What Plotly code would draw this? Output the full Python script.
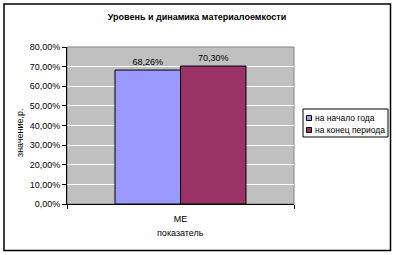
import plotly.graph_objects as go

categories = ["МЕ"]
series_names = ["на начало года", "на конец периода"]
start_values = [0.6826]
end_values = [0.7030]
colors = ["#9999FF", "#993366"]
y_ticks = [0, 0.1, 0.2, 0.3, 0.4, 0.5, 0.6, 0.7, 0.8]

FONT = "Liberation Sans, Arial, sans-serif"

fig = go.Figure()
for name, vals, col in zip(series_names, [start_values, end_values], colors):
    fig.add_trace(go.Bar(
        x=categories, y=vals, name=name,
        marker=dict(color=col, line=dict(color="black", width=1)),
        texttemplate="%{y:.2%}", textposition="outside",
        textfont=dict(family=FONT, size=9, color="black"),
        cliponaxis=False, showlegend=False,
    ))

W, H = 396, 255
L, R, T, B = 67, 102, 47, 51
pw, ph = W - L - R, H - T - B

def px_x(x):
    return (x - L) / pw

def px_y(y):
    return (H - B - y) / ph

shapes = [
    dict(type="rect", xref="paper", yref="paper", x0=0, x1=1, y0=0, y1=1,
         line=dict(color="#808080", width=1), layer="below"),
    dict(type="rect", xref="paper", yref="paper", x0=px_x(4), x1=px_x(390.5),
         y0=px_y(250.5), y1=px_y(4), line=dict(color="black", width=1.5)),
    # legend box
    dict(type="rect", xref="paper", yref="paper", x0=px_x(303), x1=px_x(388),
         y0=px_y(137), y1=px_y(109), line=dict(color="black", width=1),
         fillcolor="white"),
]
annotations = [
    dict(text="значение,р.", xref="paper", yref="paper", x=px_x(20), y=px_y(133),
         textangle=-90, showarrow=False, xanchor="center", yanchor="middle",
         font=dict(family=FONT, size=9, color="black")),
    dict(text="показатель", xref="paper", yref="paper", x=px_x(180), y=px_y(233),
         showarrow=False, xanchor="center", yanchor="middle",
         font=dict(family=FONT, size=9, color="black")),
]
legend_rows = [118, 130]
for name, col, ry in zip(series_names, colors, legend_rows):
    shapes.append(dict(type="rect", xref="paper", yref="paper",
                       x0=px_x(306.5), x1=px_x(311.5), y0=px_y(ry + 2.5), y1=px_y(ry - 2.5),
                       fillcolor=col, line=dict(color="black", width=1)))
    annotations.append(dict(text=name, xref="paper", yref="paper", x=px_x(312.5),
                            y=px_y(ry), xanchor="left", yanchor="middle", showarrow=False,
                            font=dict(family=FONT, size=8.5, color="black")))

fig.update_layout(
    width=W, height=H,
    margin=dict(l=L, r=R, t=T, b=B, pad=0),
    paper_bgcolor="white", plot_bgcolor="#C0C0C0",
    separators=", ",
    barmode="group", bargap=0.423, bargroupgap=0,
    font=dict(family=FONT, size=9, color="black"),
    title=dict(text="<b>Уровень и динамика материалоемкости</b>",
               x=197 / W, xref="container", xanchor="center",
               y=1 - 17 / H, yref="container", yanchor="middle",
               font=dict(family=FONT, size=9, color="black")),
    showlegend=False,
    xaxis=dict(type="category", range=[-0.5, 0.5], showline=True, linecolor="black",
               linewidth=1, ticks="outside", tickson="boundaries", ticklen=4,
               tickcolor="black", showgrid=False, tickfont=dict(size=9),
               ticklabelstandoff=6),
    yaxis=dict(range=[0, 0.8], tickvals=y_ticks, tickformat=".2%", showline=True,
               linecolor="black", linewidth=1, ticks="outside", ticklen=4,
               tickcolor="black", gridcolor="white", gridwidth=1, zeroline=False,
               tickfont=dict(size=9)),
    shapes=shapes,
    annotations=annotations,
)

fig.write_html("out.html")
